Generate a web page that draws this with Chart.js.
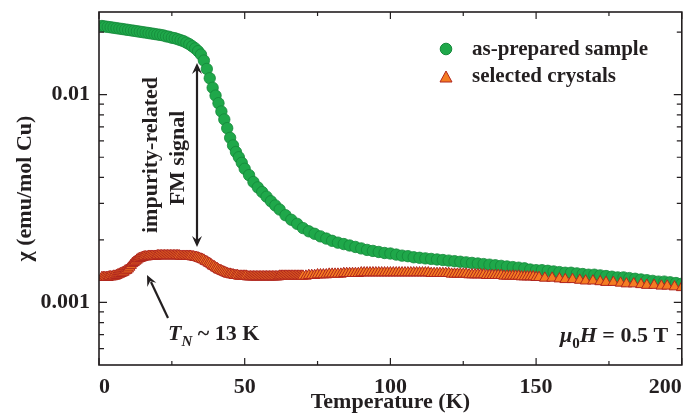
<!DOCTYPE html>
<html>
<head>
<meta charset="utf-8">
<title>Susceptibility vs temperature</title>
<script src="https://cdn.jsdelivr.net/npm/chart.js@4.4.0/dist/chart.umd.min.js"></script>
<style>
html, body { margin: 0; padding: 0; background: #fff; }
#wrap { width: 689px; height: 418px; }
</style>
</head>
<body>
<div id="wrap"><canvas id="chiChart" width="689" height="418"></canvas></div>
<script>
// series names
const seriesNames = ['as-prepared sample', 'selected crystals'];

// as-prepared sample: temperature (K) and chi (emu/mol Cu)
const preparedT = [
  1, 2, 3, 4, 5, 6, 7, 8, 9, 10,
  11, 12, 13, 14, 15, 16, 17, 18, 19, 20,
  21, 22, 23, 24, 25, 26, 27, 28, 29, 30,
  31, 32, 33, 34, 35, 36, 37, 38, 39, 40,
  41, 42, 43, 44, 45, 46, 47, 48, 49, 50,
  51.5, 53, 54.5, 56, 57.5, 59, 60.5, 62,
  64, 66, 68, 70, 72, 74, 76, 78, 80, 82, 84, 86, 88, 90, 92, 94, 96, 98, 100,
  102, 104, 106, 108, 110, 112, 114, 116, 118, 120,
  122, 124, 126, 128, 130, 132, 134, 136, 138, 140,
  142, 144, 146, 148, 150, 152, 154, 156, 158, 160,
  162, 164, 166, 168, 170, 172, 174, 176, 178, 180,
  182, 184, 186, 188, 190, 192, 194, 196, 198, 200
];
const preparedChi = [
  0.0214, 0.0213, 0.0212, 0.0211, 0.0210, 0.0209, 0.0208, 0.0207, 0.0206, 0.0205,
  0.0204, 0.0203, 0.0202, 0.0201, 0.0200, 0.0199, 0.0198, 0.0197, 0.0196, 0.0195,
  0.0194, 0.0193, 0.0191, 0.0190, 0.0188, 0.0187, 0.0185, 0.0183, 0.0181, 0.0178,
  0.0175, 0.0171, 0.0167, 0.0162, 0.0156, 0.0146, 0.0133, 0.0120, 0.0108, 0.0099,
  0.0091, 0.0083, 0.0076, 0.0069, 0.0062, 0.0057, 0.0053, 0.0050, 0.0047, 0.0044,
  0.0041, 0.0038, 0.00358, 0.0034, 0.00323, 0.00307, 0.00293, 0.0028,
  0.00263, 0.0025, 0.00239, 0.00228, 0.0022, 0.00214, 0.00208, 0.00203, 0.00198, 0.00194,
  0.00191, 0.00188, 0.00185, 0.00182, 0.00179, 0.00177, 0.00175, 0.00173, 0.00172,
  0.00170, 0.00168, 0.00167, 0.00165, 0.00164, 0.00163, 0.00162, 0.00161, 0.00160, 0.00159,
  0.00158, 0.00157, 0.00156, 0.00155, 0.00154, 0.00153, 0.00152, 0.00151, 0.00150, 0.00149,
  0.00148, 0.00147, 0.00146, 0.00144, 0.00143, 0.00143, 0.00142, 0.00141, 0.00140, 0.00139,
  0.00139, 0.00138, 0.00137, 0.00136, 0.00136, 0.00135, 0.00134, 0.00133, 0.00132, 0.00132,
  0.00131, 0.00130, 0.00129, 0.00128, 0.00127, 0.00126, 0.00126, 0.00125, 0.00124, 0.00123
];

// selected crystals: temperature (K) and chi (emu/mol Cu)
const crystalT = [
  1, 1.5, 2, 2.5, 3, 3.5, 4, 4.5, 5, 5.5,
  6, 6.5, 7, 7.5, 8, 8.5, 9, 9.5, 10, 10.5,
  11, 11.5, 12, 12.5, 13, 13.5, 14, 14.5, 15, 15.5,
  16, 16.5, 17, 17.5, 18, 18.5, 19, 19.5, 20, 20.5,
  21, 21.5, 22, 22.5, 23, 23.5, 24, 24.5, 25, 25.5,
  26, 26.5, 27, 27.5, 28, 28.5, 29, 29.5, 30, 30.5,
  31, 31.5, 32, 32.5, 33, 33.5, 34, 34.5, 35, 35.5,
  36, 36.5, 37, 37.5, 38, 38.5, 39, 39.5, 40, 40.5,
  41, 41.5, 42, 42.5, 43, 43.5, 44, 44.5, 45, 45.5,
  46, 46.5, 47, 47.5, 48, 48.5, 49, 49.5, 50, 50.5,
  51, 51.5, 52, 52.5, 53, 53.5, 54, 54.5, 55, 55.5,
  56, 56.5, 57, 57.5, 58, 58.5, 59, 59.5, 60, 60.5,
  61, 61.5, 62, 62.5, 63, 63.5, 64, 64.5, 65, 65.5,
  66, 66.5, 67, 67.5, 68, 68.5, 69, 69.5, 70,
  71, 72, 73, 74, 75, 76, 77, 78, 79, 80,
  81, 82, 83, 84, 85, 86, 87, 88, 89, 90,
  91, 92, 93, 94, 95, 96, 97, 98, 99, 100,
  101, 102, 103, 104, 105, 106, 107, 108, 109, 110,
  111, 112, 113, 114, 115, 116, 117, 118, 119, 120,
  121, 122, 123, 124, 125, 126, 127, 128, 129, 130,
  131, 132, 133, 134, 135, 136, 137, 138, 139, 140,
  141, 142, 143, 144, 145, 146, 147, 148, 149, 150,
  151, 153, 155.5, 158, 160, 162.5, 165, 167, 169.5, 172, 174,
  176.5, 179, 181, 183.5, 186, 188, 190.5, 193, 195, 197.5, 200
];
const crystalChi = [
  0.00132, 0.00132, 0.00132, 0.00132, 0.00132, 0.00133, 0.00133, 0.00133, 0.00134, 0.00134,
  0.00135, 0.00136, 0.00137, 0.00138, 0.00139, 0.00140, 0.00142, 0.00143, 0.00145, 0.00148,
  0.00151, 0.00154, 0.00156, 0.00158, 0.00160, 0.00162, 0.00163, 0.00164, 0.00165, 0.00166,
  0.00166, 0.00166, 0.00167, 0.00167, 0.00167, 0.00167, 0.00167, 0.00167, 0.00168, 0.00168,
  0.00168, 0.00168, 0.00168, 0.00168, 0.00168, 0.00168, 0.00168, 0.00168, 0.00168, 0.00168,
  0.00168, 0.00168, 0.00168, 0.00168, 0.00167, 0.00167, 0.00167, 0.00167, 0.00167, 0.00167,
  0.00167, 0.00167, 0.00166, 0.00166, 0.00165, 0.00165, 0.00164, 0.00163, 0.00162, 0.00161,
  0.00160, 0.00158, 0.00157, 0.00155, 0.00154, 0.00152, 0.00150, 0.00149, 0.00147, 0.00146,
  0.00144, 0.00143, 0.00142, 0.00141, 0.00140, 0.00139, 0.00138, 0.00137, 0.00137, 0.00136,
  0.00136, 0.00135, 0.00135, 0.00135, 0.00134, 0.00134, 0.00134, 0.00134, 0.00134, 0.00134,
  0.00133, 0.00133, 0.00133, 0.00133, 0.00133, 0.00133, 0.00133, 0.00133, 0.00133, 0.00133,
  0.00133, 0.00133, 0.00133, 0.00133, 0.00133, 0.00133, 0.00133, 0.00133, 0.00133, 0.00133,
  0.00133, 0.00133, 0.00134, 0.00134, 0.00134, 0.00134, 0.00134, 0.00134, 0.00134, 0.00134,
  0.00134, 0.00134, 0.00134, 0.00134, 0.00134, 0.00134, 0.00134, 0.00134, 0.00134,
  0.00134, 0.00135, 0.00135, 0.00135, 0.00136, 0.00136, 0.00136, 0.00136, 0.00137, 0.00137,
  0.00137, 0.00137, 0.00137, 0.00138, 0.00138, 0.00138, 0.00138, 0.00138, 0.00138, 0.00139,
  0.00139, 0.00139, 0.00139, 0.00139, 0.00139, 0.00139, 0.00139, 0.00139, 0.00139, 0.00139,
  0.00139, 0.00139, 0.00139, 0.00139, 0.00139, 0.00139, 0.00139, 0.00139, 0.00139, 0.00139,
  0.00139, 0.00139, 0.00139, 0.00138, 0.00138, 0.00138, 0.00138, 0.00138, 0.00138, 0.00138,
  0.00137, 0.00137, 0.00137, 0.00137, 0.00137, 0.00137, 0.00136, 0.00136, 0.00136, 0.00136,
  0.00136, 0.00136, 0.00135, 0.00135, 0.00135, 0.00135, 0.00135, 0.00135, 0.00134, 0.00134,
  0.00134, 0.00134, 0.00134, 0.00134, 0.00133, 0.00133, 0.00133, 0.00133, 0.00133, 0.00132,
  0.00132, 0.00131, 0.00131, 0.00130, 0.00129, 0.00129, 0.00128, 0.00127, 0.00127, 0.00126, 0.00125,
  0.00125, 0.00124, 0.00123, 0.00123, 0.00122, 0.00121, 0.00121, 0.00120, 0.00120, 0.00119, 0.00118
];

// axis ticks
const xTickValues = [0, 50, 100, 150, 200];
const xMinorTicks = [25, 75, 125, 175];
const yTickValues = [0.001, 0.01];
const yMinorTicks = [0.0006, 0.0007, 0.0008, 0.0009,
  0.002, 0.003, 0.004, 0.005, 0.006, 0.007, 0.008, 0.009, 0.02];

const serif = '"Liberation Serif", "Times New Roman", serif';
const ink = '#231f20';
const greenFill = '#1fa84a', greenLine = '#14883a';
const orangeFill = '#f47c22', redLine = '#b0261e';

function toPoints(xs, ys) {
  return xs.map((t, i) => ({ x: t, y: ys[i] }));
}

function drawArrowHead(ctx, x, y, angle) {
  ctx.save();
  ctx.translate(x, y);
  ctx.rotate(angle);
  ctx.beginPath();
  ctx.moveTo(0, 0);
  ctx.lineTo(-11, -5);
  ctx.lineTo(-7, 0);
  ctx.lineTo(-11, 5);
  ctx.closePath();
  ctx.fill();
  ctx.restore();
}

// draws runs of [text, fontString, dy] from left to right
function drawRuns(ctx, x, y, runs) {
  runs.forEach(r => {
    ctx.font = r[1];
    ctx.fillText(r[0], x, y + (r[2] || 0));
    x += ctx.measureText(r[0]).width;
  });
}

const framePlugin = {
  id: 'frame',
  afterDatasetsDraw(chart) {
    const { ctx, chartArea: a, scales: { x, y } } = chart;
    ctx.save();
    ctx.strokeStyle = ink;
    ctx.fillStyle = ink;

    // box
    ctx.lineWidth = 1.6;
    ctx.strokeRect(a.left, a.top, a.right - a.left, a.bottom - a.top);

    // inward ticks on all four sides
    ctx.lineWidth = 1.2;
    ctx.beginPath();
    const xt = (v, len) => {
      const px = x.getPixelForValue(v);
      ctx.moveTo(px, a.bottom); ctx.lineTo(px, a.bottom - len);
      ctx.moveTo(px, a.top); ctx.lineTo(px, a.top + len);
    };
    const yt = (v, len) => {
      const py = y.getPixelForValue(v);
      ctx.moveTo(a.left, py); ctx.lineTo(a.left + len, py);
      ctx.moveTo(a.right, py); ctx.lineTo(a.right - len, py);
    };
    xTickValues.forEach(v => xt(v, 7));
    xMinorTicks.forEach(v => xt(v, 4));
    yTickValues.forEach(v => yt(v, 8));
    yMinorTicks.forEach(v => yt(v, 5));
    ctx.stroke();

    // legend
    const lgX = 446;
    ctx.lineWidth = 1;
    ctx.fillStyle = greenFill; ctx.strokeStyle = greenLine;
    ctx.beginPath(); ctx.arc(lgX, 49, 5.8, 0, Math.PI * 2); ctx.fill(); ctx.stroke();
    ctx.fillStyle = orangeFill; ctx.strokeStyle = redLine;
    ctx.beginPath();
    ctx.moveTo(lgX, 71); ctx.lineTo(lgX + 6, 82); ctx.lineTo(lgX - 6, 82); ctx.closePath();
    ctx.fill(); ctx.stroke();
    ctx.fillStyle = ink;
    ctx.textAlign = 'left';
    ctx.textBaseline = 'alphabetic';
    ctx.font = 'bold 21px ' + serif;
    ctx.fillText(seriesNames[0], 472, 55);
    ctx.fillText(seriesNames[1], 472, 82);

    // double arrow for the FM signal
    ctx.strokeStyle = ink;
    ctx.lineWidth = 2.2;
    ctx.beginPath(); ctx.moveTo(197, 70); ctx.lineTo(197, 240); ctx.stroke();
    drawArrowHead(ctx, 197, 63, -Math.PI / 2);
    drawArrowHead(ctx, 197, 247, Math.PI / 2);

    // vertical label
    ctx.font = 'bold 22px ' + serif;
    ctx.textAlign = 'center';
    ctx.save(); ctx.translate(157, 155); ctx.rotate(-Math.PI / 2);
    ctx.fillText('impurity-related', 0, 0); ctx.restore();
    ctx.save(); ctx.translate(184, 158); ctx.rotate(-Math.PI / 2);
    ctx.fillText('FM signal', 0, 0); ctx.restore();

    // T_N arrow and label
    ctx.beginPath(); ctx.moveTo(168, 318); ctx.lineTo(151, 282); ctx.stroke();
    drawArrowHead(ctx, 147, 275, Math.atan2(275 - 318, 147 - 168));
    ctx.textAlign = 'left';
    drawRuns(ctx, 168, 340, [
      ['T', 'italic bold 22px ' + serif, 0],
      ['N', 'italic bold 15px ' + serif, 6],
      [' ~ 13 K', 'bold 22px ' + serif, 0]
    ]);

    // field label
    drawRuns(ctx, 560, 342, [
      ['\u03bc', 'italic bold 22px ' + serif, 0],
      ['0', 'bold 15px ' + serif, 6],
      ['H', 'italic bold 22px ' + serif, 0],
      [' = 0.5 T', 'bold 22px ' + serif, 0]
    ]);
    ctx.restore();
  }
};

const tickFont = { family: serif, size: 22, weight: 'bold' };

new Chart(document.getElementById('chiChart'), {
  type: 'scatter',
  data: {
    datasets: [{
      label: seriesNames[0],
      data: toPoints(preparedT, preparedChi),
      pointStyle: 'circle',
      pointRadius: 5.7,
      backgroundColor: greenFill,
      borderColor: greenLine,
      borderWidth: 0.8,
      order: 1
    }, {
      label: seriesNames[1],
      data: toPoints(crystalT, crystalChi),
      pointStyle: 'triangle',
      pointRadius: 6.2,
      backgroundColor: orangeFill,
      borderColor: redLine,
      borderWidth: 1,
      order: 0
    }]
  },
  options: {
    responsive: false,
    animation: false,
    layout: { padding: { top: 12, right: 3, left: 0, bottom: 0 } },
    plugins: { legend: { display: false }, tooltip: { enabled: false } },
    scales: {
      x: {
        type: 'linear',
        min: 0,
        max: 200,
        afterBuildTicks: s => { s.ticks = xTickValues.map(v => ({ value: v })); },
        afterFit: s => { s.height = 53; s.paddingLeft = 0; s.paddingRight = 0; },
        grid: { display: false, drawTicks: false },
        border: { display: false },
        ticks: {
          align: 'inner',
          padding: 9,
          autoSkip: false,
          maxRotation: 0,
          color: ink,
          font: tickFont,
          callback: v => String(v)
        },
        title: {
          display: true,
          text: 'Temperature (K)',
          color: ink,
          font: tickFont,
          padding: { top: 0, bottom: 2 }
        }
      },
      y: {
        type: 'logarithmic',
        min: 0.0005,
        max: 0.025,
        afterBuildTicks: s => { s.ticks = yTickValues.map(v => ({ value: v })); },
        afterFit: s => { s.width = 99; s.paddingTop = 0; s.paddingBottom = 0; },
        grid: { display: false, drawTicks: false },
        border: { display: false },
        ticks: {
          padding: 9,
          color: ink,
          font: tickFont,
          callback: v => String(v)
        },
        title: {
          display: true,
          text: '\u03c7 (emu/mol Cu)',
          color: ink,
          font: tickFont,
          padding: { top: 12, bottom: 0 }
        }
      }
    }
  },
  plugins: [framePlugin]
});
</script>
</body>
</html>
